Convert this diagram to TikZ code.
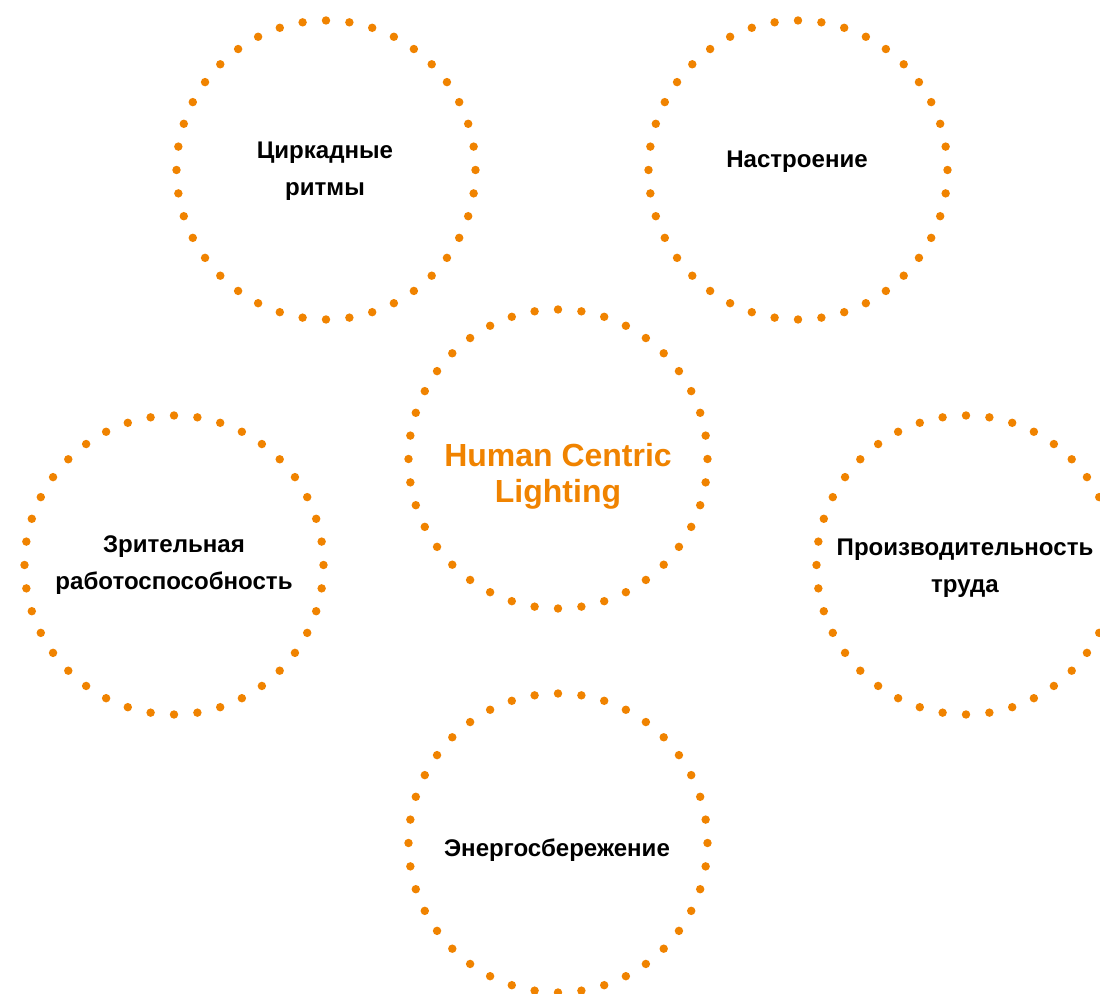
\documentclass[tikz,border=0pt]{standalone}
\usepackage{fontspec}
\setmainfont{Liberation Sans}
\definecolor{hcl}{RGB}{240,131,0}
\begin{document}
\begin{tikzpicture}[x=0.02cm, y=0.02cm, line join=round, line cap=round,
	txt/.style={anchor=base, align=center, font=\fontsize{13.7}{21.5}\selectfont\bfseries},
	hc/.style={anchor=base, align=center, text=hcl, font=\fontsize{18.2}{21}\selectfont\bfseries}]
	\pgfmathsetmacro{\r}{149.5}
	\useasboundingbox (0,0) rectangle (1100,994);
	\path (326,824)coordinate(Z)
	(798,824)coordinate(N)
	(558,535)coordinate(H)
	(174,429)coordinate(V)
	(966,429)coordinate(P)
	(558,151)coordinate(E);
	\foreach \p in {Z,N,H,V,P,E}
		\foreach \i in {0,...,39}
			\fill[hcl]([shift={(9*\i:\r)}]\p)circle(2.4pt);
	\node[txt] (z) at (325,798) {Циркадные\\ритмы};
	\node[txt] (n) at (797,826) {Настроение};
	\node[hc] (h) at (558,491) {Human Centric\\Lighting};
	\node[txt] (v) at (174,404) {Зрительная\\работоспособность};
	\node[txt] (p) at (965,401) {Производительность\\труда};
	\node[txt] (e) at (557,137) {Энергосбережение};
\end{tikzpicture}
\end{document}
